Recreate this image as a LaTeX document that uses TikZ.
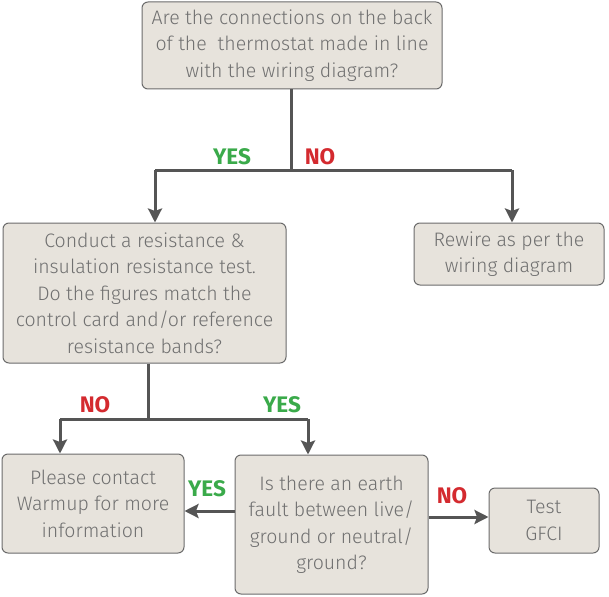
\documentclass[tikz,border=0pt]{standalone}
\usepackage{fontspec}
\setmainfont{Fira Sans Light}[BoldFont=Fira Sans Bold]
\usetikzlibrary{arrows.meta,positioning,calc}
\definecolor{boxfill}{HTML}{E7E3DC}
\definecolor{boxline}{HTML}{6B6B6B}
\definecolor{txt}{HTML}{707070}
\definecolor{arrc}{HTML}{555555}
\definecolor{yesc}{HTML}{3AAA4A}
\definecolor{noc}{HTML}{D42A2F}
\tikzset{
  box/.style={draw=boxline, line width=1pt, fill=boxfill, rounded corners=6pt,
    text=txt, align=center, inner sep=0pt, font=\fontsize{19.5}{26.5}\selectfont},
  conn/.style={draw=arrc, line width=3pt},
  arr/.style={conn, -{Stealth[length=14pt,width=14pt,inset=2.5pt]}},
  yes/.style={text=yesc, font=\fontsize{22.5}{22.5}\selectfont\bfseries},
  no/.style={text=noc, font=\fontsize{22.5}{22.5}\selectfont\bfseries},
}
\begin{document}
\begin{tikzpicture}[x=1pt,y=-1pt]
\useasboundingbox (0,0) rectangle (609,596);
\node[box, minimum width=300pt, minimum height=87pt] (b1) at (292,45.5)
  {Are the connections on the back\\of the\ \ thermostat made in line\\with the wiring diagram?};
\node[box, minimum width=283pt, minimum height=140pt] (b2) at (144.5,293)
  {Conduct a resistance \&\\insulation resistance test.\\Do the figures match the\\control card and/or reference\\resistance bands?};
\node[box, minimum width=190pt, minimum height=62pt] (b3) at (509,254)
  {Rewire as per the\\wiring diagram};
\node[box, minimum width=182pt, minimum height=99pt] (b4) at (93,503.5)
  {Please contact\\Warmup for more\\information};
\node[box, minimum width=193pt, minimum height=139pt] (b5) at (331.5,524.5)
  {Is there an earth\\fault between live/\\ground or neutral/\\ground?};
\node[box, minimum width=110pt, minimum height=65pt] (b6) at (544,520.5)
  {Test\\GFCI};
% upper branch
\coordinate (j1) at (291,170);
\coordinate (l1) at (155,170);
\coordinate (r1) at (512,170);
\draw[conn] (b1.south -| j1) -- (j1);
\draw[conn] (l1) -- (r1);
\draw[arr] (l1) -- (l1 |- b2.north);
\draw[arr] (r1) -- (r1 |- b3.north);
\node[yes] (y1) at (232,157) {YES};
\node[no] (n1) at (320,157) {NO};
% lower branch
\coordinate (j2) at (148,419);
\coordinate (l2) at (60,419);
\coordinate (r2) at (308,419);
\draw[conn] (b2.south -| j2) -- (j2);
\draw[conn] (l2) -- (r2);
\draw[arr] (l2) -- (l2 |- b4.north);
\draw[arr] (r2) -- (r2 |- b5.north);
\node[no] (n2) at (95,405) {NO};
\node[yes] (y2) at (282,405) {YES};
% side arrows
\coordinate (s1) at (0,511);
\coordinate (s2) at (0,517);
\draw[arr] (b5.west |- s1) -- (b4.east |- s1);
\draw[arr] (b5.east |- s2) -- (b6.west |- s2);
\node[yes] (y3) at (207,489) {YES};
\node[no] (n3) at (452,496) {NO};
\end{tikzpicture}
\end{document}
